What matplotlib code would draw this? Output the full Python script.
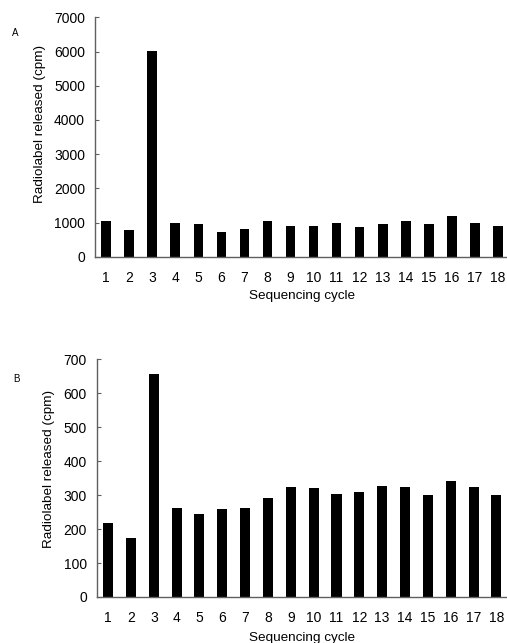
import matplotlib
matplotlib.use("Agg")
import matplotlib.pyplot as plt

cycles = list(range(1, 19))
cycle_labels = [str(c) for c in cycles]
values_a = [1053, 770, 6025, 994, 946, 731, 819, 1043, 897, 907, 985, 877, 955, 1033, 965, 1189, 994, 907]
values_b = [218, 175, 658, 261, 243, 260, 261, 293, 323, 322, 302, 308, 326, 325, 300, 342, 323, 299]
yticks_a = [0, 1000, 2000, 3000, 4000, 5000, 6000, 7000]
yticks_b = [0, 100, 200, 300, 400, 500, 600, 700]

plt.rcParams['font.family'] = ['Liberation Sans', 'DejaVu Sans']

W, H = 507, 643
fig = plt.figure(figsize=(W / 100, H / 100), dpi=100)

def px_axes(left, top, right, bottom):
    return fig.add_axes([left / W, 1 - bottom / H, (right - left) / W, (bottom - top) / H])

spine_col = '#606060'

def style(ax, yticks, ymax, xlab_y, ylab_x, ylab_y):
    ax.set_xlim(0.5, 18.5)
    ax.set_ylim(0, ymax)
    ax.set_yticks(yticks)
    ax.set_xticks(cycles)
    ax.set_xticklabels(cycle_labels)
    for s in ['top', 'right']:
        ax.spines[s].set_visible(False)
    for s in ['left', 'bottom']:
        ax.spines[s].set_color(spine_col)
        ax.spines[s].set_linewidth(1.0)
    ax.tick_params(axis='y', direction='in', length=3, width=0.8, color=spine_col,
                   labelsize=10, pad=7)
    ax.tick_params(axis='x', length=0, labelsize=10, pad=10)
    ax.set_xlabel('Sequencing cycle', fontsize=9.7)
    ax.set_ylabel('Radiolabel released (cpm)', fontsize=9.7)
    ax.xaxis.set_label_coords(0.5, xlab_y)
    ax.yaxis.set_label_coords(ylab_x, ylab_y)

ax1 = px_axes(94.7, 17.3, 509.4, 256.7)
ax1.bar(cycles, values_a, width=0.42, color='black')
style(ax1, yticks_a, 7000, -0.14, -0.117, 0.554)
fig.text(15 / W, 1 - 33 / H, 'A', fontsize=7, ha='center', va='center')

ax2 = px_axes(96.7, 359.3, 507.8, 597)
ax2.bar(cycles, values_b, width=0.44, color='black')
style(ax2, yticks_b, 700, -0.147, -0.101, 0.538)
fig.text(16.7 / W, 1 - 379 / H, 'B', fontsize=7, ha='center', va='center')

fig.savefig('out.png', dpi=100)
